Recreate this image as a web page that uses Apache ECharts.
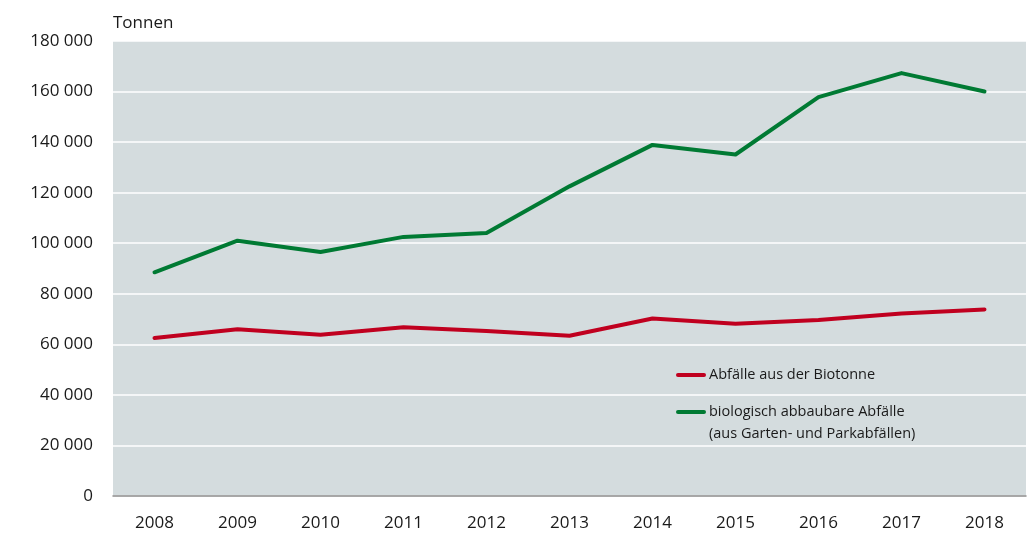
<!DOCTYPE html>
<html>
<head>
<meta charset="utf-8">
<script src="https://cdn.jsdelivr.net/npm/echarts@6/dist/echarts.min.js"></script>
<style>
  html, body { margin: 0; padding: 0; background: #ffffff; }
  #chart { width: 1036px; height: 534px; }
</style>
</head>
<body>
<div id="chart"></div>
<script>
// Jahre
const years = ['2008', '2009', '2010', '2011', '2012', '2013', '2014', '2015', '2016', '2017', '2018'];

// Abfälle aus der Biotonne (Tonnen)
const biotonne = [62500, 66000, 63800, 66800, 65300, 63400, 70200, 68100, 69600, 72200, 73800];

// biologisch abbaubare Abfälle aus Garten- und Parkabfällen (Tonnen)
const gartenPark = [88500, 101000, 96500, 102500, 104000, 122500, 138900, 135100, 157800, 167300, 160000];

const nameBio = 'Abfälle aus der Biotonne';
const nameGarten = 'biologisch abbaubare Abfälle\n(aus Garten- und Parkabfällen)';

const FONT = '"Open Sans", "Noto Sans", sans-serif';
const RED = '#c0001f';
const GREEN = '#007a33';
const LEGEND_ICON = 'path://M2,5 L28,5 A2,2 0 0 1 28,9 L2,9 A2,2 0 0 1 2,5 Z';

const legendText = { fontFamily: FONT, fontSize: 14.5, lineHeight: 22, color: '#1a1a1a', padding: [0, 0, 0, -2] };

const chart = echarts.init(document.getElementById('chart'), null, { renderer: 'canvas' });

chart.setOption({
  animation: false,
  textStyle: { fontFamily: FONT },
  grid: {
    left: 113, right: 10, top: 41, bottom: 38,
    show: true, backgroundColor: '#d4dcde', borderWidth: 0
  },
  legend: [
    {
      data: [nameBio],
      orient: 'vertical',
      left: 676, top: 364,
      padding: 0,
      itemWidth: 30, itemHeight: 14,
      icon: LEGEND_ICON,
      textStyle: legendText
    },
    {
      data: [nameGarten],
      orient: 'vertical',
      left: 676, top: 379,
      padding: 0,
      itemWidth: 30, itemHeight: 14,
      icon: LEGEND_ICON,
      // a blank leading line keeps the icon level with the first text line
      formatter: name => '\u00a0\n' + name,
      textStyle: legendText
    }
  ],
  xAxis: {
    type: 'category',
    data: years,
    boundaryGap: true,
    axisLine: { show: true, lineStyle: { color: '#8c8c8c', width: 1.5 } },
    axisTick: { show: false },
    axisLabel: { color: '#1a1a1a', fontSize: 17, fontFamily: FONT, margin: 19 },
    splitLine: { show: false }
  },
  yAxis: {
    type: 'value',
    min: 0, max: 180000, interval: 20000,
    name: 'Tonnen',
    nameLocation: 'end',
    nameGap: 9,
    nameTextStyle: { color: '#1a1a1a', fontSize: 17, fontFamily: FONT, align: 'left', verticalAlign: 'bottom' },
    axisLine: { show: false },
    axisTick: { show: false },
    axisLabel: {
      color: '#1a1a1a', fontSize: 17, fontFamily: FONT, margin: 20,
      formatter: v => v === 0 ? '0' : String(v).replace(/\B(?=(\d{3})+(?!\d))/g, ' ')
    },
    splitLine: { show: true, lineStyle: { color: '#ffffff', width: 1.5 } }
  },
  series: [
    {
      name: nameBio,
      type: 'line',
      data: biotonne,
      symbol: 'none',
      lineStyle: { color: RED, width: 4, cap: 'round', join: 'round' },
      itemStyle: { color: RED }
    },
    {
      name: nameGarten,
      type: 'line',
      data: gartenPark,
      symbol: 'none',
      lineStyle: { color: GREEN, width: 4, cap: 'round', join: 'round' },
      itemStyle: { color: GREEN }
    }
  ]
});
</script>
</body>
</html>
